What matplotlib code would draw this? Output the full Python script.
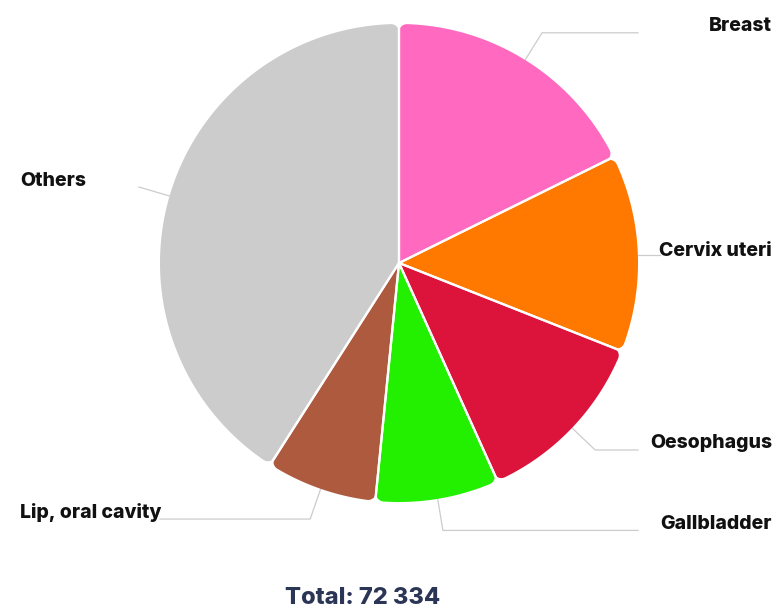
import numpy as np
import matplotlib
matplotlib.use("Agg")
import matplotlib.pyplot as plt
from matplotlib.path import Path
from matplotlib.patches import PathPatch

# data
sites = ["Breast", "Cervix uteri", "Oesophagus", "Gallbladder", "Lip, oral cavity", "Others"]
deaths = [12800, 9620, 8860, 6030, 5400, 29624]
colors = ["#ff69c0", "#ff7800", "#dc143c", "#22f000", "#ae5a3e", "#cccccc"]
total_text = "Total: 72 334"

W, H = 774, 615
plt.rcParams['font.family'] = ['Inter', 'DejaVu Sans']

fig = plt.figure(figsize=(W / 100, H / 100), dpi=100)
ax = fig.add_axes([0, 0, 1, 1])

def py(y):
    # pixel row -> data y
    return H - y

cx, cy, R = 399, py(263), 239
rc = 8  # corner radius

wedges, _ = ax.pie(deaths, colors=colors, startangle=90, counterclock=False,
                   center=(cx, cy), radius=R, frame=True)
ax.set_xlim(0, W)
ax.set_ylim(0, H)
ax.set_aspect('auto')
ax.axis('off')

def rounded_wedge(t1, t2):
    a1, a2 = np.radians(t1), np.radians(t2)
    s = np.sqrt((R - rc) ** 2 - rc ** 2)
    da = np.arcsin(rc / (R - rc))
    pts = [(0, 0)]
    # side at a1, fillet, outer arc, fillet, side at a2
    u1 = np.array([np.cos(a1), np.sin(a1)])
    n1 = np.array([-np.sin(a1), np.cos(a1)])
    c1 = s * u1 + rc * n1
    ang_start = np.arctan2(*(s * u1 - c1)[::-1])
    ang_end = a1 + da
    if ang_end < ang_start:
        ang_end += 2 * np.pi
    for t in np.linspace(ang_start, ang_end, 20):
        pts.append(tuple(c1 + rc * np.array([np.cos(t), np.sin(t)])))
    for t in np.linspace(a1 + da, a2 - da, 120):
        pts.append((R * np.cos(t), R * np.sin(t)))
    u2 = np.array([np.cos(a2), np.sin(a2)])
    n2 = np.array([np.sin(a2), -np.cos(a2)])
    c2 = s * u2 + rc * n2
    ang_s2 = a2 - da
    ang_e2 = np.arctan2(*(s * u2 - c2)[::-1])
    if ang_e2 < ang_s2:
        ang_e2 += 2 * np.pi
    for t in np.linspace(ang_s2, ang_e2, 20):
        pts.append(tuple(c2 + rc * np.array([np.cos(t), np.sin(t)])))
    pts.append((0, 0))
    pts = np.array(pts) + np.array([cx, cy])
    return Path(pts, closed=True)

for w, col in zip(wedges, colors):
    t1, t2 = w.theta1, w.theta2
    w.remove()
    ax.add_patch(PathPatch(rounded_wedge(t1, t2), facecolor=col, edgecolor='none', zorder=2))
    for t in (t1, t2):
        a = np.radians(t)
        ax.plot([cx, cx + R * np.cos(a)], [cy, cy + R * np.sin(a)],
                color='white', lw=1.6, zorder=3, solid_capstyle='butt')

# label lines and labels
L1 = 32
for w, name in zip(wedges, sites):
    mid = np.radians((w.theta1 + w.theta2) / 2)
    d = np.array([np.cos(mid), np.sin(mid)])
    p0 = np.array([cx, cy]) + R * d
    p1 = np.array([cx, cy]) + (R + L1) * d
    if abs(d[1]) < 0.1:
        # nearly horizontal label line
        p0 = p0 + np.array([0, -2])
        p1 = np.array([p0[0] + 22, p0[1]])
        ty = p1[1] + 4
    else:
        ty = p1[1] + 6.5
    if d[0] >= 0:
        xe = max(638, p1[0])
        ax.text(772, ty, name, ha='right', va='center', fontsize=14,
                fontweight='heavy', color='#111111', zorder=4)
    else:
        xe = 160 if p1[1] < cy - 100 else p1[0]
        ax.text(20, ty, name, ha='left', va='center', fontsize=14,
                fontweight='heavy', color='#111111', zorder=4)
    ax.plot([p0[0], p1[0], xe], [p0[1], p1[1], p1[1]], color='#cccccc', lw=0.9, zorder=1)

ax.text(363, py(598), total_text, ha='center', va='center', fontsize=17,
        fontweight='heavy', color='#2b3556')

fig.savefig("out.png", dpi=100)
